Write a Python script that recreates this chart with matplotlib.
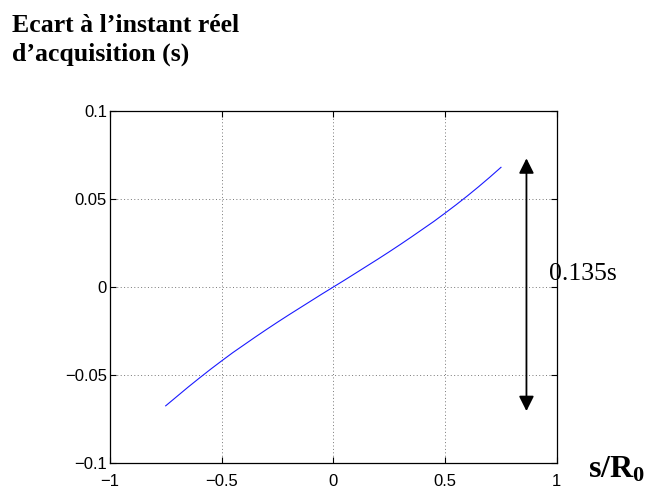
import matplotlib
matplotlib.use("Agg")
import matplotlib.pyplot as plt

# Data
s_over_r0 = [-0.75, -0.70, -0.65, -0.60, -0.55, -0.50, -0.45, -0.40, -0.35, -0.30,
             -0.25, -0.20, -0.15, -0.10, -0.05, 0.00, 0.05, 0.10, 0.15, 0.20,
             0.25, 0.30, 0.35, 0.40, 0.45, 0.50, 0.55, 0.60, 0.65, 0.70, 0.75]
ecart = [-0.0675, -0.0622, -0.0569, -0.0518, -0.0468, -0.0420, -0.0373, -0.0329,
         -0.0285, -0.0242, -0.0200, -0.0159, -0.0119, -0.0079, -0.0039, 0.0000,
         0.0039, 0.0079, 0.0119, 0.0159, 0.0200, 0.0242, 0.0285, 0.0329, 0.0373,
         0.0420, 0.0468, 0.0518, 0.0570, 0.0624, 0.0680]
xticks = [-1, -0.5, 0, 0.5, 1]
xticklabels = ["\u22121", "\u22120.5", "0", "0.5", "1"]
yticks = [-0.1, -0.05, 0, 0.05, 0.1]
yticklabels = ["\u22120.1", "\u22120.05", "0", "0.05", "0.1"]
arrow_x = 0.864
arrow_top = 0.0731
arrow_bottom = -0.0705
span_label = "0.135s"
title_text = "Ecart \u00e0 l\u2019instant r\u00e9el\nd\u2019acquisition (s)"

plt.rcParams['mathtext.fontset'] = 'custom'
plt.rcParams['mathtext.bf'] = 'Liberation Serif:bold'
plt.rcParams['mathtext.rm'] = 'Liberation Serif'

fig = plt.figure(figsize=(6.46, 4.88), dpi=100)
ax = fig.add_axes([0.170, 0.0512, 0.692, 0.7213])

ax.plot(s_over_r0, ecart, color='#1a1aff', lw=0.8)
ax.set_xlim(-1, 1)
ax.set_ylim(-0.1, 0.1)
ax.set_xticks(xticks)
ax.set_xticklabels(xticklabels, fontfamily='Liberation Sans', fontsize=12)
ax.set_yticks(yticks)
ax.set_yticklabels(yticklabels, fontfamily='Liberation Sans', fontsize=12)
ax.tick_params(direction='in', length=4, width=0.8, pad=2)
ax.tick_params(axis='x', pad=8)
ax.tick_params(top=True, right=True)
ax.grid(True, linestyle=(0, (1, 2.5)), color='#777777', lw=0.7)
for sp in ax.spines.values():
    sp.set_linewidth(0.9)

ax.annotate('', xy=(arrow_x, arrow_top), xytext=(arrow_x, arrow_bottom),
            arrowprops=dict(arrowstyle='<|-|>,head_length=0.9,head_width=0.45',
                            color='black', lw=1.3, shrinkA=0, shrinkB=0))
ax.text(0.964, 0.0075, span_label, fontfamily='Liberation Serif', fontsize=18.5,
        ha='left', va='center', clip_on=False)

fig.text(12 / 646, 1 - 14 / 488, title_text, fontfamily='Liberation Serif',
         fontweight='bold', fontsize=18.5, ha='left', va='top', linespacing=1.3)
fig.text(588 / 646, 1 - 477 / 488, r'$\mathbf{s/R_0}$', fontsize=23,
         ha='left', va='baseline')

fig.savefig('out.png', dpi=100)
